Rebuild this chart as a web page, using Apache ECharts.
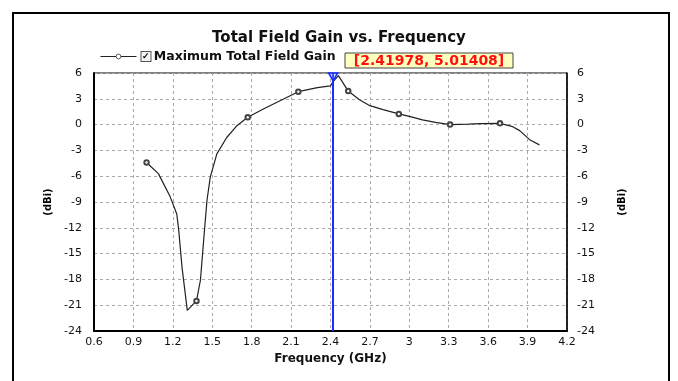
<!DOCTYPE html>
<html>
<head>
<meta charset="utf-8">
<script src="https://cdn.jsdelivr.net/npm/echarts@6/dist/echarts.min.js"></script>
<style>
  html, body { margin: 0; padding: 0; background: #fff; }
  #main { width: 678px; height: 381px; }
</style>
</head>
<body>
<div id="main"></div>
<script>
var freq = [1.0, 1.09, 1.18, 1.23, 1.245, 1.27, 1.31, 1.38, 1.41, 1.445, 1.46, 1.485, 1.535, 1.61, 1.69, 1.77,
  1.9, 2.02, 2.155, 2.3, 2.4, 2.42, 2.46, 2.535, 2.62, 2.7, 2.8, 2.92, 3.0, 3.1, 3.2, 3.31, 3.45, 3.54, 3.69,
  3.78, 3.84, 3.92, 3.99];
var gain = [-4.4, -5.7, -8.4, -10.4, -12.3, -16.6, -21.6, -20.5, -18.1, -11.5, -8.8, -6.1, -3.4, -1.5, -0.1, 0.85,
  1.9, 2.8, 3.83, 4.3, 4.5, 5.0, 5.7, 3.9, 2.9, 2.2, 1.75, 1.24, 0.95, 0.55, 0.25, 0.0, 0.05, 0.12, 0.15,
  -0.2, -0.7, -1.8, -2.36];
var markerAt = [1.0, 1.38, 1.77, 2.155, 2.535, 2.92, 3.31, 3.69];
var cursorFreq = 2.41978;
var cursorGain = 5.01408;
var seriesName = 'Maximum Total Field Gain';

var font = 'DejaVu Sans';
var data = freq.map(function (f, i) { return [f, gain[i]]; });

var yAxisBase = {
  type: 'value', min: -24, max: 6, interval: 3,
  name: '(dBi)', nameLocation: 'middle', nameRotate: 90,
  nameTextStyle: { fontFamily: font, fontSize: 10, fontWeight: 'bold', color: '#000' },
  axisLabel: { fontFamily: font, fontSize: 11, color: '#111', margin: 12 },
  axisTick: { show: false }
};

var myChart = echarts.init(document.getElementById('main'));
myChart.setOption({
  backgroundColor: '#fff',
  animation: false,
  title: {
    text: 'Total Field Gain vs. Frequency',
    left: 'center', top: 26,
    textStyle: { fontFamily: font, fontSize: 15, fontWeight: 'bold', color: '#111' }
  },
  legend: {
    data: [seriesName],
    left: 95, top: 45,
    itemWidth: 36, itemHeight: 6, itemGap: 4,
    itemStyle: { color: '#fff', borderColor: '#333', borderWidth: 0.8 },
    lineStyle: { color: '#222', width: 1 },
    formatter: function (name) { return '{box|✓} {t|' + name + '}'; },
    textStyle: {
      rich: {
        box: { width: 9, height: 9, lineHeight: 11, align: 'center', fontSize: 9, fontWeight: 'bold',
          borderColor: '#555', borderWidth: 1, backgroundColor: '#f4f4f4', color: '#000' },
        t: { fontFamily: font, fontSize: 12.5, fontWeight: 'bold', color: '#111' }
      }
    }
  },
  grid: { left: 94, right: 111, top: 73, bottom: 50, show: true, borderColor: '#000', borderWidth: 1 },
  xAxis: {
    type: 'value', min: 0.6, max: 4.2, interval: 0.3,
    name: 'Frequency (GHz)', nameLocation: 'middle', nameGap: 22,
    nameTextStyle: { fontFamily: font, fontSize: 12, fontWeight: 'bold', color: '#111' },
    axisLine: { onZero: false, lineStyle: { color: '#000', width: 2 } },
    axisTick: { show: false },
    axisLabel: { fontFamily: font, fontSize: 11, color: '#111', margin: 6,
      formatter: function (v) { return String(+v.toFixed(1)); } },
    splitLine: { lineStyle: { color: '#aaa', type: [3, 3] } }
  },
  yAxis: [
    Object.assign({}, yAxisBase, {
      position: 'left', nameGap: 40,
      axisLine: { show: true, lineStyle: { color: '#000', width: 2 } },
      splitLine: { lineStyle: { color: '#aaa', type: [3, 3] } }
    }),
    Object.assign({}, yAxisBase, {
      position: 'right', nameGap: 50,
      axisLabel: Object.assign({}, yAxisBase.axisLabel, { margin: 10 }),
      axisLine: { show: true, lineStyle: { color: '#000', width: 1.5 } },
      splitLine: { show: false }
    })
  ],
  series: [
    {
      name: seriesName,
      type: 'line',
      data: data,
      lineStyle: { color: '#222', width: 1.2 },
      itemStyle: { color: '#444', borderWidth: 0.7 },
      symbol: function (v) { return markerAt.indexOf(v[0]) >= 0 ? 'emptyCircle' : 'none'; },
      symbolSize: 4.5,
      markLine: {
        silent: true,
        symbol: ['none', 'none'],
        label: { show: false },
        lineStyle: { color: '#1a2cff', width: 2, type: 'solid' },
        data: [{ xAxis: cursorFreq }]
      },
      markPoint: {
        silent: true,
        symbol: 'triangle', symbolRotate: 180, symbolSize: [9, 8], symbolOffset: [0, 4],
        itemStyle: { color: 'rgba(120,140,255,0.4)', borderColor: '#1a2cff', borderWidth: 1.5 },
        label: { show: false },
        data: [{ coord: [cursorFreq, 6] }]
      }
    },
    {
      type: 'line', yAxisIndex: 1, data: [], silent: true
    }
  ],
  graphic: [
    { type: 'rect', shape: { x: 13, y: 13, width: 656, height: 400 },
      style: { fill: 'none', stroke: '#000', lineWidth: 2 } },
    { type: 'rect', shape: { x: 345, y: 53, width: 168, height: 15 },
      style: { fill: '#ffffc0', stroke: '#444', lineWidth: 1 } },
    { type: 'text', x: 429, y: 61,
      style: { text: '[' + cursorFreq + ', ' + cursorGain + ']', fill: '#ff1010',
        font: 'bold 14px "DejaVu Sans"', textAlign: 'center', textVerticalAlign: 'middle' } }
  ]
});
</script>
</body>
</html>
